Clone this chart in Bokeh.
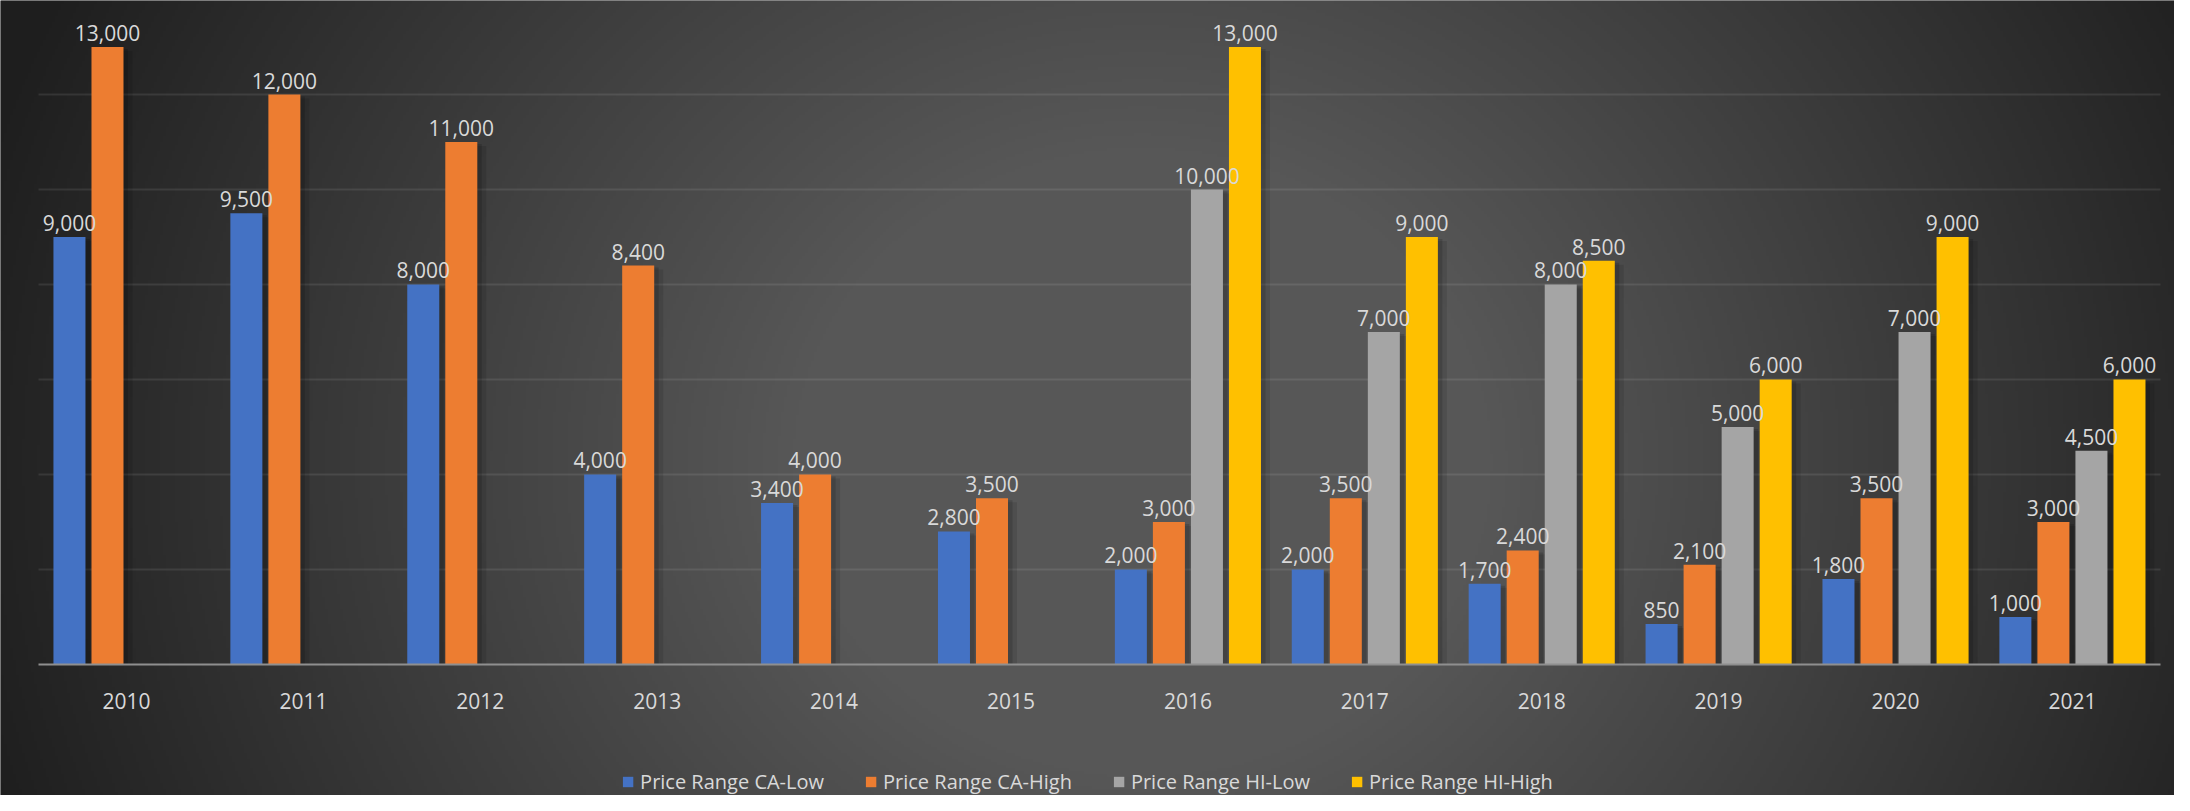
import numpy as np
from bokeh.plotting import figure
from bokeh.models import (Range1d, LinearAxis, FixedTicker, Grid, ColumnDataSource, LabelSet)
from bokeh.transform import dodge
from bokeh.core.properties import value
from bokeh.embed import file_html
from bokeh.resources import INLINE

# ---------------- data ----------------
years = ["2010", "2011", "2012", "2013", "2014", "2015",
         "2016", "2017", "2018", "2019", "2020", "2021"]
ca_low = [9000, 9500, 8000, 4000, 3400, 2800, 2000, 2000, 1700, 850, 1800, 1000]
ca_high = [13000, 12000, 11000, 8400, 4000, 3500, 3000, 3500, 2400, 2100, 3500, 3000]
hi_low = [None, None, None, None, None, None, 10000, 7000, 8000, 5000, 7000, 4500]
hi_high = [None, None, None, None, None, None, 13000, 9000, 8500, 6000, 9000, 6000]
series_names = ["Price Range CA-Low", "Price Range CA-High",
                "Price Range HI-Low", "Price Range HI-High"]
series_values = [ca_low, ca_high, hi_low, hi_high]
series_colors = ["#4472C4", "#ED7D31", "#A5A5A5", "#FFC000"]
grid_ticks = [2000, 4000, 6000, 8000, 10000, 12000, 14000]

# ---------------- layout ----------------
W, H = 2174, 795
X0, X1 = -0.7123, 11.577
Y0, Y1 = -2758, 13979
FONT = "Open Sans"
TXT = "#d9d9d9"
PX_X = (X1 - X0) / W  # data units per pixel along x
PX_Y = (Y1 - Y0) / H  # data units per pixel along y

p = figure(width=W, height=H, x_range=Range1d(X0, X1), y_range=Range1d(Y0, Y1),
           x_axis_type=None, y_axis_type=None, toolbar_location=None,
           output_backend="svg", min_border=0, outline_line_color=None,
           background_fill_color="#333333", border_fill_color="#333333")

# radial background shading (decoration only)
gh, gw = 265, 725
rows = 803 - (np.arange(gh) + 0.5) * H / gh
cols = 8 + (np.arange(gw) + 0.5) * W / gw
PX, PY = np.meshgrid(cols, rows)
cx, cy = 1150.0, 470.0
r = np.sqrt((PX - cx) ** 2 + ((PY - cy) / 0.9) ** 2)
v = np.where(r < 350, 87.0, 87.0 - 53.0 * (r - 350) / 800.0)
v = np.clip(v, 30, 90).astype(np.uint8)
img = np.empty((gh, gw), dtype=np.uint32)
view = img.view(dtype=np.uint8).reshape((gh, gw, 4))
view[..., 0] = v
view[..., 1] = v
view[..., 2] = v
view[..., 3] = 255
p.image_rgba(image=[img], x=X0, y=Y0, dw=X1 - X0, dh=Y1 - Y0, level="image")

# gridlines
grid = Grid(dimension=1, ticker=FixedTicker(ticks=grid_ticks),
            grid_line_color="#ffffff", grid_line_alpha=0.09, grid_line_width=2)
if "cross_bounds" in Grid.properties():
    grid.cross_bounds = (-0.5, 11.5)
p.add_layout(grid)

# bars + labels
offsets = [-0.3225, -0.1075, 0.1075, 0.3225]
bar_w = 0.181
sources = []
for vals, off in zip(series_values, offsets):
    xs, tops, labels = [], [], []
    for i, val in enumerate(vals):
        if val is None:
            continue
        xs.append(i + off)
        tops.append(val)
        labels.append(f"{val:,}")
    sources.append(ColumnDataSource(dict(x=xs, top=tops, label=labels)))

# soft shadows to the lower right of the bars
for src in sources:
    for dx, extra, dy, a in [(5, 8, 4, 0.10), (3, 3, 2, 0.14)]:
        p.vbar(x=dodge("x", dx * PX_X), top=dodge("top", -dy * PX_Y),
               width=bar_w + extra * PX_X, source=src,
               fill_color="black", fill_alpha=a, line_color=None)

for name, src, color in zip(series_names, sources, series_colors):
    p.vbar(x="x", top="top", width=bar_w, source=src, fill_color=color,
           line_color=None, legend_label=name)
    p.add_layout(LabelSet(x="x", y="top", text="label", source=src,
                          text_align="center", text_baseline="alphabetic",
                          y_offset=6, text_color=TXT, text_font=value(FONT),
                          text_font_size="21px"))

# x axis at value 0
xaxis = LinearAxis(fixed_location=0, ticker=FixedTicker(ticks=list(range(len(years)))),
                   major_label_overrides={i: y for i, y in enumerate(years)},
                   bounds=(-0.5, 11.5), axis_line_color="#8f8f8f", axis_line_width=2,
                   major_tick_line_color=None, minor_tick_line_color=None,
                   major_label_text_color=TXT, major_label_text_font=FONT,
                   major_label_text_font_size="21px", major_label_standoff=23)
p.add_layout(xaxis, "below")

leg = p.legend[0]
leg.location = "bottom_center"
leg.orientation = "horizontal"
leg.background_fill_alpha = 0
leg.border_line_alpha = 0
leg.label_text_color = TXT
leg.label_text_font = FONT
leg.label_text_font_size = "20px"
leg.glyph_width = 13
leg.glyph_height = 13
leg.label_standoff = 6
leg.spacing = 40
leg.padding = 0
leg.margin = 0

open("out.html", "w").write(file_html(p, INLINE))
